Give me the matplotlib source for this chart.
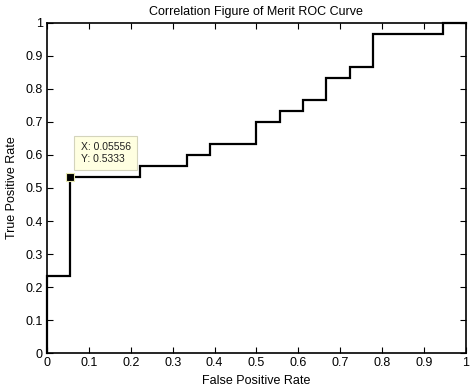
import numpy as np
import matplotlib.pyplot as plt

plt.rcParams['font.family'] = ['Liberation Sans', 'DejaVu Sans']

# ROC step curve (FPR, TPR)
fpr = [0, 0, 0.05556, 0.05556, 0.2222, 0.2222, 0.3333, 0.3333, 0.3889, 0.3889,
       0.5, 0.5, 0.5556, 0.5556, 0.6111, 0.6111, 0.6667, 0.6667, 0.7222, 0.7222,
       0.7778, 0.7778, 0.9444, 0.9444, 1.0]
tpr = [0, 0.2333, 0.2333, 0.5333, 0.5333, 0.5667, 0.5667, 0.6, 0.6, 0.6333,
       0.6333, 0.7, 0.7, 0.7333, 0.7333, 0.7667, 0.7667, 0.8333, 0.8333, 0.8667,
       0.8667, 0.9667, 0.9667, 1.0, 1.0]
tip_x = 0.05556
tip_y = 0.5333
ticks = np.round(np.arange(0, 1.01, 0.1), 1)
tick_labels = ['0', '0.1', '0.2', '0.3', '0.4', '0.5', '0.6', '0.7', '0.8', '0.9', '1']

fig = plt.figure(figsize=(4.74, 3.88), dpi=100)
ax = fig.add_axes([0.099, 0.090, 0.884, 0.851])

ax.plot(fpr, tpr, color='black', lw=1.6, solid_joinstyle='miter', clip_on=False, zorder=3)

ax.set_xlim(0, 1)
ax.set_ylim(0, 1)
ax.set_xticks(ticks)
ax.set_xticklabels(tick_labels)
ax.set_yticks(ticks)
ax.set_yticklabels(tick_labels)
ax.tick_params(direction='in', length=4, width=0.8, top=True, right=True,
               labelsize=9, pad=3)
for s in ax.spines.values():
    s.set_linewidth(1.2)

ax.set_title('Correlation Figure of Merit ROC Curve', fontsize=9, pad=6)
ax.set_xlabel('False Positive Rate', fontsize=9, labelpad=4)
ax.set_ylabel('True Positive Rate', fontsize=9, labelpad=5)

# data tip
ax.plot([tip_x], [tip_y], marker='s', ms=5.5, color='black', mec='#e8e8b0', mew=0.8, zorder=5)
ax.annotate('X: 0.05556\nY: 0.5333', xy=(tip_x, tip_y), xytext=(7.5, 9.5),
            textcoords='offset points', fontsize=7.5, va='bottom', ha='left',
            linespacing=1.25, color='#202020',
            bbox=dict(boxstyle='square,pad=0.6', fc='#ffffe1', ec='#d4d4bc', lw=0.8),
            zorder=6)

fig.savefig('out.png', dpi=100)
